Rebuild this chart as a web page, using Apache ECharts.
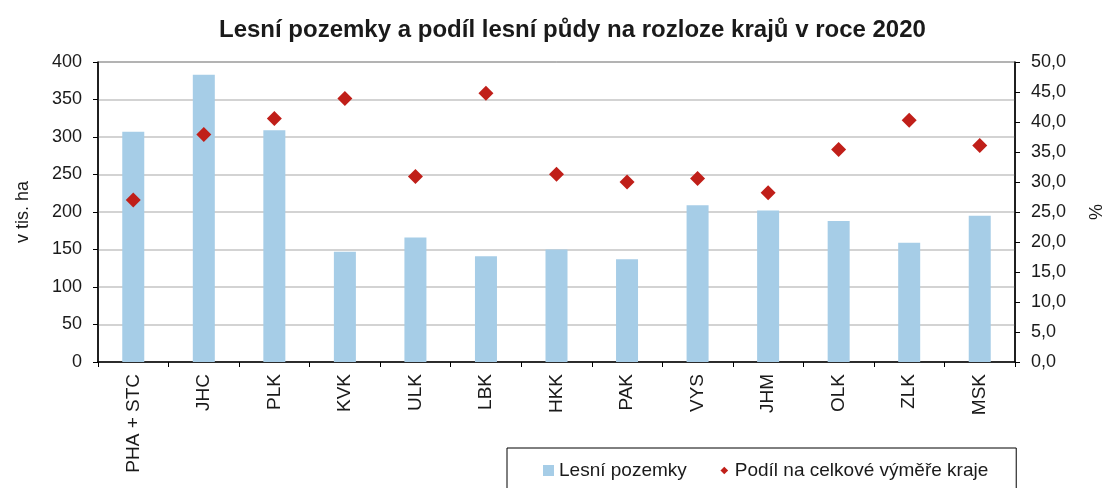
<!DOCTYPE html>
<html>
<head>
<meta charset="utf-8">
<script src="https://cdn.jsdelivr.net/npm/echarts@6/dist/echarts.min.js"></script>
<style>
  html, body { margin: 0; padding: 0; background: #fff; }
  #chart { width: 1114px; height: 488px; }
</style>
</head>
<body>
<div id="chart"></div>
<script>
// kraje
const regions = ['PHA + STC', 'JHC', 'PLK', 'KVK', 'ULK', 'LBK', 'HKK', 'PAK', 'VYS', 'JHM', 'OLK', 'ZLK', 'MSK']
// lesni pozemky, v tis. ha
const forestLand = [307, 383, 309, 147, 166, 141, 150, 137, 209, 202, 188, 159, 195]
// podil na celkove vymere kraje, %
const forestShare = [27.0, 37.9, 40.6, 43.9, 30.9, 44.8, 31.3, 30.0, 30.6, 28.2, 35.4, 40.3, 36.1]

const font = 'Liberation Sans, Arial, sans-serif'
const chart = echarts.init(document.getElementById('chart'))

// small diamond inside a 10x10 box (the moveTo corners keep the padding)
const smallDiamond = 'path://M0,0M10,10M5,1.5L8.5,5L5,8.5L1.5,5Z'

const option = {
  animation: false,
  textStyle: { fontFamily: font },
  title: {
    text: 'Lesní pozemky a podíl lesní půdy na rozloze krajů v roce 2020',
    left: 214,
    top: 13,
    textStyle: { fontFamily: font, fontSize: 24, fontWeight: 'bold', color: '#1a1a1a' }
  },
  legend: {
    left: 507,
    top: 448,
    padding: [13, 28, 20, 36],
    itemGap: 32,
    itemWidth: 11,
    itemHeight: 11,
    borderColor: '#000',
    borderWidth: 1,
    textStyle: { fontFamily: font, fontSize: 19, color: '#1a1a1a' },
    data: [
      { name: 'Lesní pozemky', icon: 'rect' },
      { name: 'Podíl na celkové výměře kraje', icon: smallDiamond }
    ]
  },
  grid: {
    left: 98,
    right: 97,
    top: 62,
    bottom: 126,
    show: true,
    borderColor: '#000',
    borderWidth: 1
  },
  xAxis: {
    type: 'category',
    data: regions,
    axisLine: { lineStyle: { color: '#000', width: 1.5 } },
    axisTick: { show: true, length: 5, lineStyle: { color: '#000' } },
    axisLabel: {
      rotate: 90,
      margin: 12,
      fontSize: 19,
      color: '#1a1a1a',
      fontFamily: font
    }
  },
  yAxis: [
    {
      type: 'value',
      min: 0,
      max: 400,
      interval: 50,
      name: 'v tis. ha',
      nameLocation: 'middle',
      nameGap: 66,
      nameTextStyle: { fontSize: 18, color: '#1a1a1a', fontFamily: font },
      axisLine: { show: true, lineStyle: { color: '#000', width: 1.5 } },
      axisTick: { show: true, length: 5, lineStyle: { color: '#000' } },
      axisLabel: { fontSize: 18, color: '#1a1a1a', margin: 16, fontFamily: font },
      splitLine: { lineStyle: { color: '#c4c4c4', width: 1.5 } }
    },
    {
      type: 'value',
      min: 0,
      max: 50,
      interval: 5,
      name: '%',
      nameLocation: 'middle',
      nameRotate: 90,
      nameGap: 73,
      nameTextStyle: { fontSize: 18, color: '#1a1a1a', fontFamily: font },
      axisLine: { show: true, lineStyle: { color: '#000', width: 1.5 } },
      axisTick: { show: true, length: 5, lineStyle: { color: '#000' } },
      axisLabel: {
        fontSize: 18,
        color: '#1a1a1a',
        margin: 16,
        fontFamily: font,
        formatter: v => v.toFixed(1).replace('.', ',')
      },
      splitLine: { show: false }
    }
  ],
  series: [
    {
      name: 'Lesní pozemky',
      type: 'bar',
      yAxisIndex: 0,
      barWidth: 22,
      itemStyle: { color: '#a6cde7' },
      data: forestLand
    },
    {
      name: 'Podíl na celkové výměře kraje',
      type: 'scatter',
      yAxisIndex: 1,
      symbol: 'diamond',
      symbolSize: 15,
      itemStyle: { color: '#c01f19', opacity: 1 },
      data: forestShare
    }
  ]
}

chart.setOption(option)
</script>
</body>
</html>
